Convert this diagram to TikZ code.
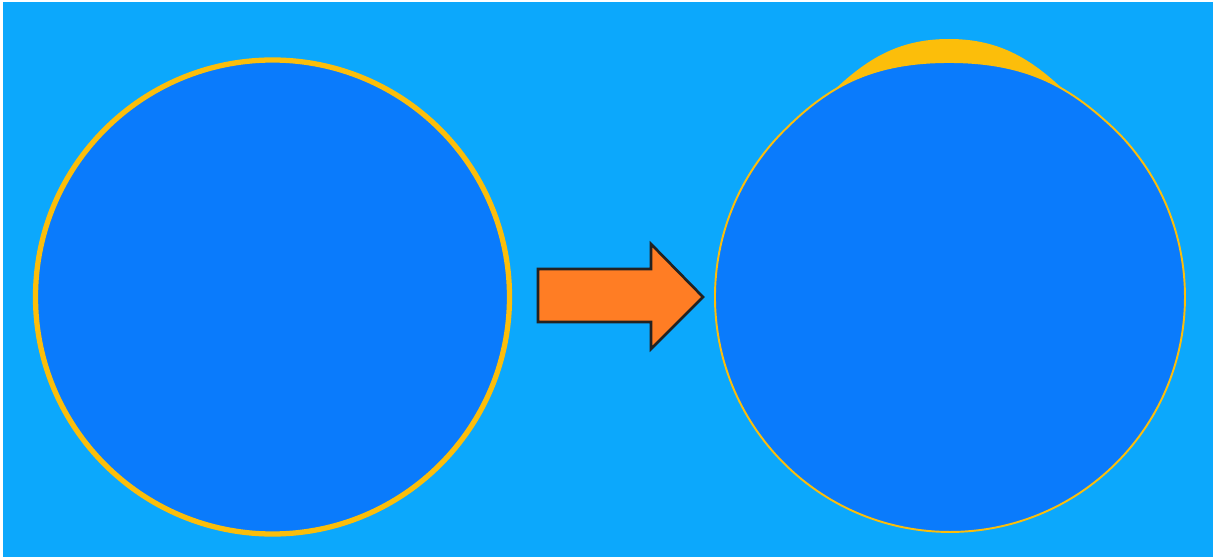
\documentclass[tikz,border=0pt]{standalone}
\usepackage{tikz}
\definecolor{bgblue}{RGB}{12,168,252}
\definecolor{discblue}{RGB}{10,123,252}
\definecolor{ringyellow}{RGB}{252,190,10}
\definecolor{arroworange}{RGB}{255,125,36}
\definecolor{arrowedge}{RGB}{34,34,34}
\tikzset{
  ring/.style={draw=ringyellow, fill=discblue},
  capfill/.style={fill=ringyellow},
  bigarrow/.style={fill=arroworange, draw=arrowedge, line width=1.5pt, line join=miter}
}
\begin{document}
\begin{tikzpicture}[x=0.02cm, y=-0.02cm]
  % canvas
  \fill[white] (0,0) rectangle (1213,557);
  \useasboundingbox (0,0) rectangle (1213,557);
  \fill[bgblue] (3,2) rectangle (1213,557);

  % left disc with thick yellow ring
  \path[ring, line width=3pt] (272.5,297) circle[radius=237];

  % arrow
  \path[bigarrow] (538,269) -- (651,269) -- (651,244) -- (703,297)
       -- (651,349) -- (651,322) -- (538,322) -- cycle;

  % right disc: yellow bulge on top
  \path[capfill] (826,98) .. controls (864,60) and (897,39) .. (949,39)
       .. controls (1001,39) and (1034,60) .. (1072,98)
       -- (1072,140) -- (826,140) -- cycle;

  % right disc: nearly circular, slightly flattened top, thin yellow rim
  \path[ring, line width=1.1pt]
    (783.8,130.8) arc[start angle=225, end angle=-45, radius=235]
    .. controls (1071.8,88.4) and (1029,62) .. (949,62)
    .. controls (869,62) and (826.2,88.4) .. (783.8,130.8) -- cycle;
\end{tikzpicture}
\end{document}
